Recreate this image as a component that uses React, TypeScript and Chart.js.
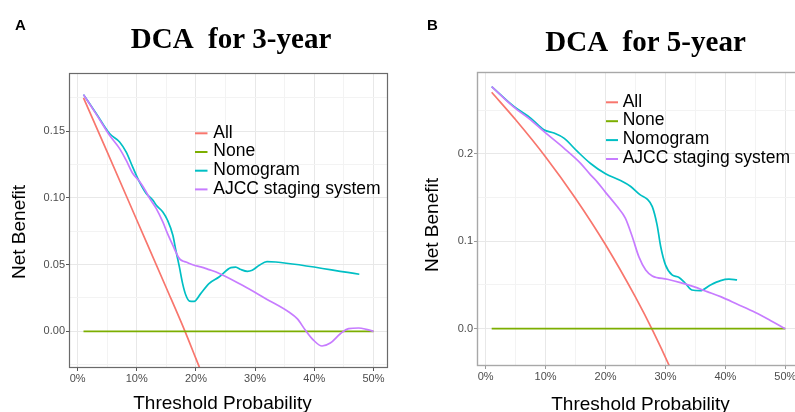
import React, { useEffect, useRef } from "react";
import { Chart, registerables } from "chart.js";

Chart.register(...registerables);

// ---------- data (threshold probability in %, net benefit) ----------
const seriesNames = ["All", "None", "Nomogram", "AJCC staging system"];
const seriesColors = ["#F8766D", "#7CAE00", "#00BFC4", "#C77CFF"];

const xTickLabelsPct = [0, 10, 20, 30, 40, 50];

// Panel A: 3-year
const a3AllX = [1, 5, 10, 15, 18.15, 20, 25];
const a3AllY = [0.175, 0.1345, 0.0835, 0.0325, 0, -0.0205, -0.076];
const a3NoneX = [1, 50];
const a3NoneY = [0, 0];
const a3NomoX = [1, 3.2, 5.4, 7.1, 8.2, 9.3, 10.45, 11.6, 12.7, 13.3, 14.4, 15.2, 16.1, 16.6, 17.2, 17.75, 18.3, 18.9, 19.7, 20.8, 22.2, 23.9, 25.9, 26.7, 27.6, 28.7, 29.5, 30.7, 32.0, 33.5, 47.6];
const a3NomoY = [0.1775, 0.163, 0.1483, 0.142, 0.1345, 0.1233, 0.112, 0.1033, 0.0985, 0.0945, 0.0895, 0.0833, 0.072, 0.0608, 0.0483, 0.0358, 0.027, 0.0227, 0.0225, 0.0283, 0.0358, 0.0407, 0.0478, 0.0482, 0.0463, 0.045, 0.0458, 0.0495, 0.0523, 0.052, 0.0428];
const a3AjccX = [1, 3.2, 5.4, 7.1, 8.2, 9.3, 10.45, 11.6, 12.1, 13.3, 14.4, 15.2, 16.1, 16.6, 17.2, 17.75, 18.3, 18.9, 19.7, 20.8, 22.2, 23.4, 27.85, 31.8, 35.7, 37.1, 38.5, 39.9, 41.3, 42.7, 44.4, 45.8, 47.5, 48.8, 50];
const a3AjccY = [0.1775, 0.1625, 0.147, 0.137, 0.1283, 0.1185, 0.1125, 0.1045, 0.1003, 0.092, 0.082, 0.0733, 0.0645, 0.0595, 0.0545, 0.0528, 0.052, 0.0508, 0.0495, 0.0483, 0.0463, 0.0445, 0.0345, 0.0245, 0.0145, 0.0095, 0.0008, -0.0068, -0.011, -0.0088, -0.0018, 0.002, 0.0025, 0.0015, 0];

// Panel B: 5-year
const b5AllX = [1, 5, 10, 15, 20, 25, 28, 31, 35];
const b5AllY = [0.2705, 0.239, 0.1965, 0.149, 0.096, 0.036, -0.004, -0.048, -0.112];
const b5NoneX = [1, 50];
const b5NoneY = [0, 0];
const b5NomoX = [1, 4.7, 7.5, 9.7, 11.4, 13.05, 15.3, 17.5, 20, 22.5, 24.2, 25.8, 26.95, 27.8, 28.6, 29.2, 30, 31.1, 32.2, 33.3, 34.4, 35.8, 37.5, 39.2, 40.6, 41.95];
const b5NomoY = [0.277, 0.2543, 0.241, 0.2276, 0.2238, 0.218, 0.2028, 0.189, 0.1772, 0.1695, 0.1627, 0.1531, 0.1482, 0.1397, 0.1188, 0.094, 0.073, 0.0615, 0.0589, 0.052, 0.0443, 0.0435, 0.05, 0.055, 0.0566, 0.0558];
const b5AjccX = [1, 4.7, 7.5, 9.7, 13.05, 15.8, 17.5, 18.6, 20, 21.95, 23.3, 24.45, 25.55, 26.7, 27.8, 30.3, 32.5, 34.7, 36.95, 39.2, 42, 45, 47.5, 50];
const b5AjccY = [0.277, 0.2535, 0.239, 0.2257, 0.2066, 0.1895, 0.176, 0.168, 0.156, 0.1397, 0.1264, 0.1054, 0.0825, 0.0672, 0.0604, 0.0566, 0.0527, 0.0481, 0.0424, 0.0367, 0.028, 0.0185, 0.0095, 0];

// ---------- layout specs ----------
type Spec = {
  letter: string;
  title: string;
  series: { xs: number[]; ys: number[] }[];
  canvasW: number;
  left: number;
  padTop: number;
  padRight: number;
  yAxisW: number;
  xAxisH: number;
  yMin: number;
  yMax: number;
  yStep: number;
  yMajor: number;
  yDecimals: number;
  borderColor: string;
  borderWidth: number;
  tickColor: string;
  letterPos: [number, number];
  titlePos: [number, number];
  yTitlePos: [number, number];
  xTitlePos: [number, number];
  legend: { x0: number; x1: number; tx: number; y0: number; dy: number };
};

const SANS = "'Liberation Sans', Arial, sans-serif";
const SERIF = "'Liberation Serif', 'Times New Roman', serif";

const specA: Spec = {
  letter: "A",
  title: "DCA  for 3-year",
  series: [
    { xs: a3AllX, ys: a3AllY },
    { xs: a3NoneX, ys: a3NoneY },
    { xs: a3NomoX, ys: a3NomoY },
    { xs: a3AjccX, ys: a3AjccY },
  ],
  canvasW: 400,
  left: 0,
  padTop: 73,
  padRight: 12,
  yAxisW: 69,
  xAxisH: 44,
  yMin: -0.0275,
  yMax: 0.1937,
  yStep: 0.025,
  yMajor: 0.05,
  yDecimals: 2,
  borderColor: "#6a6a6a",
  borderWidth: 1.2,
  tickColor: "#555555",
  letterPos: [15, 29.5],
  titlePos: [231, 47.5],
  yTitlePos: [25, 232],
  xTitlePos: [222.5, 408.6],
  legend: { x0: 195, x1: 207.5, tx: 213.3, y0: 133.3, dy: 18.7 },
};

const specB: Spec = {
  letter: "B",
  title: "DCA  for 5-year",
  series: [
    { xs: b5AllX, ys: b5AllY },
    { xs: b5NoneX, ys: b5NoneY },
    { xs: b5NomoX, ys: b5NomoY },
    { xs: b5AjccX, ys: b5AjccY },
  ],
  canvasW: 412,
  left: 400,
  padTop: 72,
  padRight: 12,
  yAxisW: 77,
  xAxisH: 46,
  yMin: -0.0427,
  yMax: 0.2937,
  yStep: 0.05,
  yMajor: 0.1,
  yDecimals: 1,
  borderColor: "#a8a8a8",
  borderWidth: 1.4,
  tickColor: "#999999",
  letterPos: [27, 30],
  titlePos: [245.5, 50.9],
  yTitlePos: [38, 225],
  xTitlePos: [240.5, 410.3],
  legend: { x0: 206, x1: 218, tx: 222.7, y0: 102.3, dy: 18.9 },
};

function isMultiple(v: number, step: number) {
  const r = v / step;
  return Math.abs(r - Math.round(r)) < 1e-6;
}

function makeDecor(spec: Spec) {
  return {
    id: "decor" + spec.letter,
    afterDraw(chart: any) {
      const { ctx, chartArea: ca } = chart;
      ctx.save();
      // panel border
      ctx.strokeStyle = spec.borderColor;
      ctx.lineWidth = spec.borderWidth;
      ctx.strokeRect(ca.left + 0.5, ca.top + 0.5, ca.right - ca.left - 1, ca.bottom - ca.top - 1);

      ctx.fillStyle = "#000";
      // panel letter
      ctx.font = `bold 15px ${SANS}`;
      ctx.textAlign = "left";
      ctx.textBaseline = "alphabetic";
      ctx.fillText(spec.letter, spec.letterPos[0], spec.letterPos[1]);

      // title
      ctx.font = `bold 29px ${SERIF}`;
      ctx.textAlign = "center";
      ctx.fillText(spec.title, spec.titlePos[0], spec.titlePos[1]);

      // axis titles
      ctx.font = `19px ${SANS}`;
      ctx.fillText("Threshold Probability", spec.xTitlePos[0], spec.xTitlePos[1]);
      ctx.save();
      ctx.translate(spec.yTitlePos[0], spec.yTitlePos[1]);
      ctx.rotate(-Math.PI / 2);
      ctx.fillText("Net Benefit", 0, 0);
      ctx.restore();

      // legend
      const lg = spec.legend;
      ctx.font = `17.5px ${SANS}`;
      ctx.textAlign = "left";
      seriesNames.forEach((name, i) => {
        const y = lg.y0 + i * lg.dy;
        ctx.strokeStyle = seriesColors[i];
        ctx.lineWidth = 2;
        ctx.beginPath();
        ctx.moveTo(lg.x0, y);
        ctx.lineTo(lg.x1, y);
        ctx.stroke();
        ctx.fillStyle = "#000";
        ctx.fillText(name, lg.tx, y + 4.2);
      });
      ctx.restore();
    },
  };
}

function makeConfig(spec: Spec): any {
  const gridColor = (c: any, major: number) =>
    isMultiple(c.tick.value, major) ? "#e8e8e8" : "#f3f3f3";
  return {
    type: "line",
    data: {
      datasets: spec.series.map((s, i) => ({
        label: seriesNames[i],
        data: s.xs.map((x, k) => ({ x, y: s.ys[k] })),
        borderColor: seriesColors[i],
        backgroundColor: seriesColors[i],
        borderWidth: 1.7,
        pointRadius: 0,
        pointHoverRadius: 0,
        cubicInterpolationMode: "monotone",
        fill: false,
        order: 4 - i,
      })),
    },
    options: {
      responsive: false,
      animation: false,
      devicePixelRatio: 1,
      events: [],
      layout: { padding: { top: spec.padTop, right: spec.padRight, left: 0, bottom: 0 } },
      plugins: {
        legend: { display: false },
        tooltip: { enabled: false },
        title: { display: false },
      },
      scales: {
        x: {
          type: "linear",
          min: -1.45,
          max: 52.45,
          afterFit: (s: any) => {
            s.height = spec.xAxisH;
          },
          border: { display: false },
          grid: {
            color: (c: any) => gridColor(c, 10),
            lineWidth: 1,
            tickLength: 3,
            tickColor: (c: any) => (isMultiple(c.tick.value, 10) ? spec.tickColor : "rgba(0,0,0,0)"),
          },
          ticks: {
            stepSize: 5,
            includeBounds: false,
            autoSkip: false,
            maxRotation: 0,
            minRotation: 0,
            padding: 1,
            color: "#4D4D4D",
            font: { family: SANS, size: 11 },
            callback: (v: number) => {
              const r = Math.round(v);
              return isMultiple(v, 10) && xTickLabelsPct.includes(r) ? `${r}%` : "";
            },
          },
        },
        y: {
          type: "linear",
          min: spec.yMin,
          max: spec.yMax,
          afterFit: (s: any) => {
            s.width = spec.yAxisW;
          },
          border: { display: false },
          grid: {
            color: (c: any) => gridColor(c, spec.yMajor),
            lineWidth: 1,
            tickLength: 3,
            tickColor: (c: any) => (isMultiple(c.tick.value, spec.yMajor) ? spec.tickColor : "rgba(0,0,0,0)"),
          },
          ticks: {
            stepSize: spec.yStep,
            includeBounds: false,
            autoSkip: false,
            padding: 1,
            color: "#4D4D4D",
            font: { family: SANS, size: 11 },
            callback: (v: number) => (isMultiple(v, spec.yMajor) ? Math.abs(v).toFixed(spec.yDecimals) : ""),
          },
        },
      },
    },
    plugins: [makeDecor(spec)],
  };
}

function Panel({ spec }: { spec: Spec }) {
  const ref = useRef<HTMLCanvasElement | null>(null);
  useEffect(() => {
    if (!ref.current) return;
    const chart = new Chart(ref.current, makeConfig(spec));
    return () => chart.destroy();
  }, [spec]);
  return (
    <canvas
      ref={ref}
      width={spec.canvasW}
      height={412}
      style={{ position: "absolute", left: spec.left, top: 0, width: spec.canvasW, height: 412, display: "block" }}
    />
  );
}

export default function App() {
  return (
    <div
      style={{
        position: "fixed",
        left: 0,
        top: 0,
        width: 795,
        height: 412,
        overflow: "hidden",
        background: "#ffffff",
      }}
    >
      <Panel spec={specA} />
      <Panel spec={specB} />
    </div>
  );
}
